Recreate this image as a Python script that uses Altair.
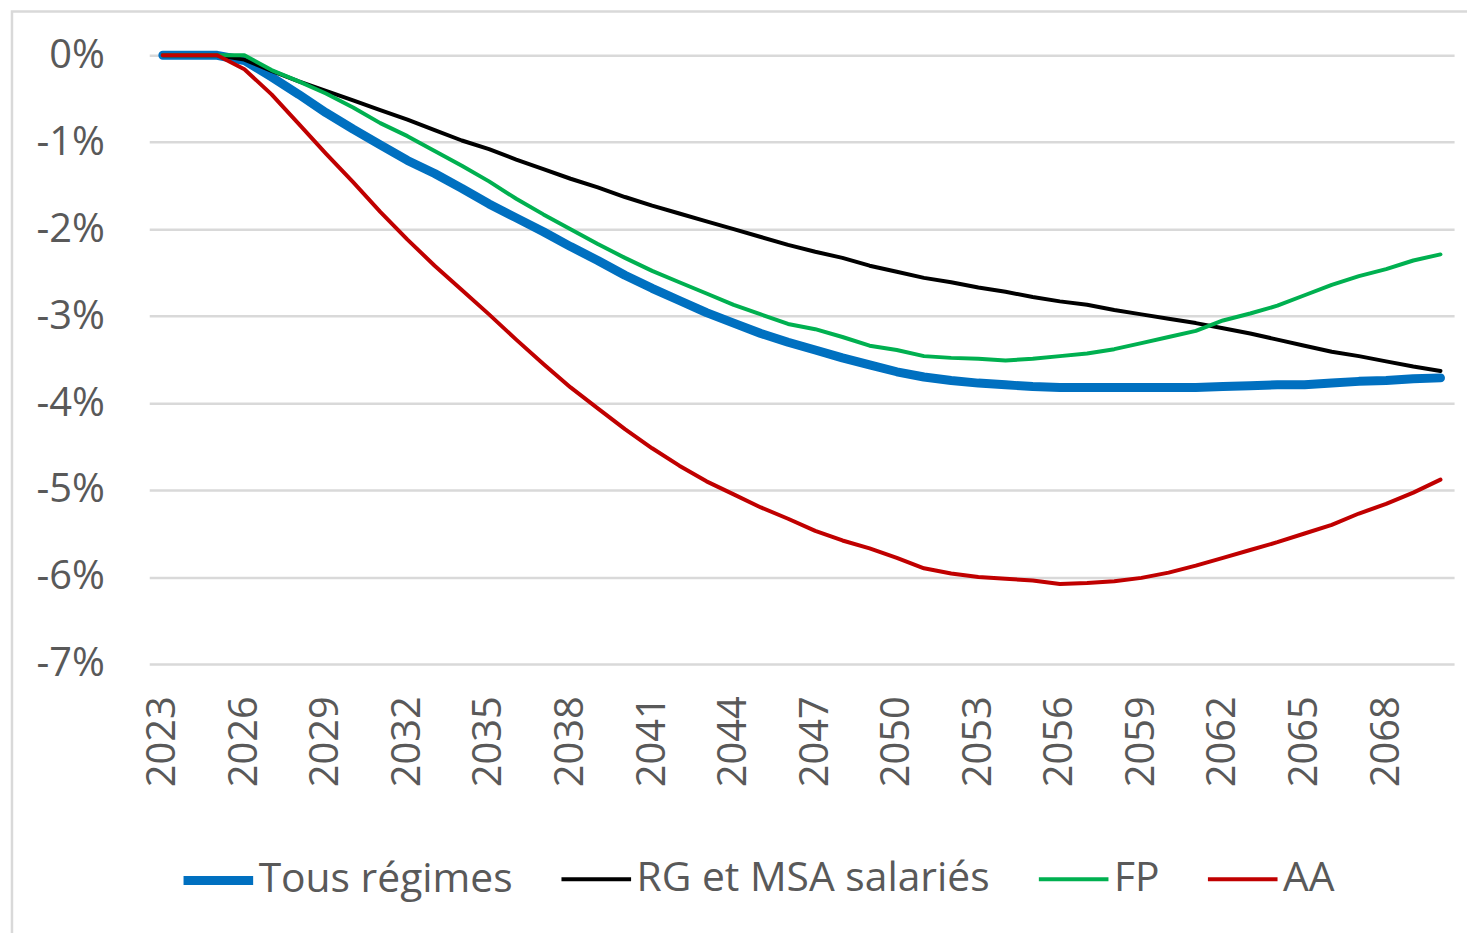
import altair as alt
import pandas as pd

years = list(range(2023, 2071))

tous_regimes = [0, 0, 0, -0.06, -0.25, -0.45, -0.66, -0.85, -1.03, -1.21, -1.36, -1.53,
                -1.71, -1.87, -2.03, -2.20, -2.36, -2.53, -2.68, -2.82, -2.96, -3.08, -3.20, -3.30,
                -3.39, -3.48, -3.56, -3.64, -3.70, -3.74, -3.77, -3.79, -3.81, -3.82, -3.82, -3.82,
                -3.82, -3.82, -3.82, -3.81, -3.80, -3.79, -3.79, -3.77, -3.75, -3.74, -3.72, -3.71]

rg_msa = [0, 0, 0, -0.05, -0.18, -0.30, -0.41, -0.52, -0.63, -0.74, -0.86, -0.98,
          -1.08, -1.20, -1.31, -1.42, -1.52, -1.63, -1.73, -1.82, -1.91, -2.00, -2.09, -2.18,
          -2.26, -2.33, -2.42, -2.49, -2.56, -2.61, -2.67, -2.72, -2.78, -2.83, -2.87, -2.93,
          -2.98, -3.03, -3.08, -3.14, -3.20, -3.27, -3.34, -3.41, -3.46, -3.52, -3.58, -3.63]

fp = [0, 0, 0, 0, -0.17, -0.30, -0.44, -0.60, -0.78, -0.93, -1.10, -1.27,
      -1.45, -1.65, -1.83, -2.00, -2.17, -2.33, -2.48, -2.61, -2.74, -2.87, -2.98, -3.09,
      -3.15, -3.24, -3.34, -3.39, -3.46, -3.48, -3.49, -3.51, -3.49, -3.46, -3.43, -3.38,
      -3.31, -3.24, -3.17, -3.05, -2.97, -2.88, -2.76, -2.64, -2.54, -2.46, -2.36, -2.29]

aa = [0, 0, 0, -0.16, -0.45, -0.79, -1.13, -1.46, -1.80, -2.12, -2.42, -2.70,
      -2.98, -3.27, -3.55, -3.82, -4.06, -4.30, -4.52, -4.72, -4.90, -5.05, -5.20, -5.33,
      -5.47, -5.58, -5.67, -5.78, -5.90, -5.96, -6.00, -6.02, -6.04, -6.08, -6.07, -6.05,
      -6.01, -5.95, -5.87, -5.78, -5.69, -5.60, -5.50, -5.40, -5.27, -5.16, -5.03, -4.88]

series_names = ["Tous régimes", "RG et MSA salariés", "FP", "AA"]
series_values = [tous_regimes, rg_msa, fp, aa]
series_colors = ["#0070C0", "#000000", "#00B050", "#C00000"]
series_widths = [9, 4, 4, 4]

x_tick_values = list(range(2023, 2069, 3))
y_tick_values = [0, -1, -2, -3, -4, -5, -6, -7]

rows = []
for name, vals in zip(series_names, series_values):
    for yr, v in zip(years, vals):
        rows.append({"annee": yr, "valeur": v, "serie": name})
df = pd.DataFrame(rows)

FONT = "Open Sans"
GREY = "#595959"

lines = alt.Chart(df).mark_line(strokeCap="round", strokeJoin="round").encode(
    x=alt.X("annee:Q",
            scale=alt.Scale(domain=[2022.5, 2070.5], nice=False, zero=False),
            axis=alt.Axis(values=x_tick_values, format="d", labelAngle=270,
                          labelFontSize=40, labelFont=FONT, labelColor=GREY,
                          labelPadding=32, ticks=False, domain=False, grid=False,
                          title=None, labelOverlap=False, labelFlush=False)),
    y=alt.Y("valeur:Q",
            scale=alt.Scale(domain=[-7, 0], nice=False),
            axis=alt.Axis(values=y_tick_values, labelExpr="datum.value + '%'",
                          labelFontSize=40, labelFont=FONT, labelColor=GREY,
                          labelPadding=45, ticks=False, domain=False,
                          grid=True, gridColor="#D9D9D9", gridWidth=2.5,
                          title=None)),
    color=alt.Color("serie:N",
                    scale=alt.Scale(domain=series_names, range=series_colors),
                    legend=alt.Legend(title=None, orient="none", direction="horizontal",
                                      columns=4, legendX=30, legendY=790,
                                      symbolType="stroke", symbolSize=4900,
                                      labelFontSize=41, labelFont=FONT, labelColor=GREY,
                                      labelLimit=0, labelOffset=1, columnPadding=40,
                                      padding=0)),
    strokeWidth=alt.StrokeWidth("serie:N",
                                scale=alt.Scale(type="ordinal", domain=series_names,
                                                range=series_widths)),
    order=alt.Order("annee:Q"),
)

border = alt.Chart(alt.Data(values=[{"k": 1}])).mark_rect(
    fill=None, stroke="#D9D9D9", strokeWidth=2.5, clip=False
).encode(
    x=alt.value(-138), x2=alt.value(1400),
    y=alt.value(-44), y2=alt.value(900),
)

chart = alt.layer(border, lines).properties(
    width=1312, height=612,
    padding={"left": 142, "top": 45, "right": 13, "bottom": 268},
    autosize=alt.AutoSizeParams(type="none"),
    background="white",
).configure_view(stroke=None)

chart.save("out.html", embed_options={"renderer": "svg", "actions": False})
